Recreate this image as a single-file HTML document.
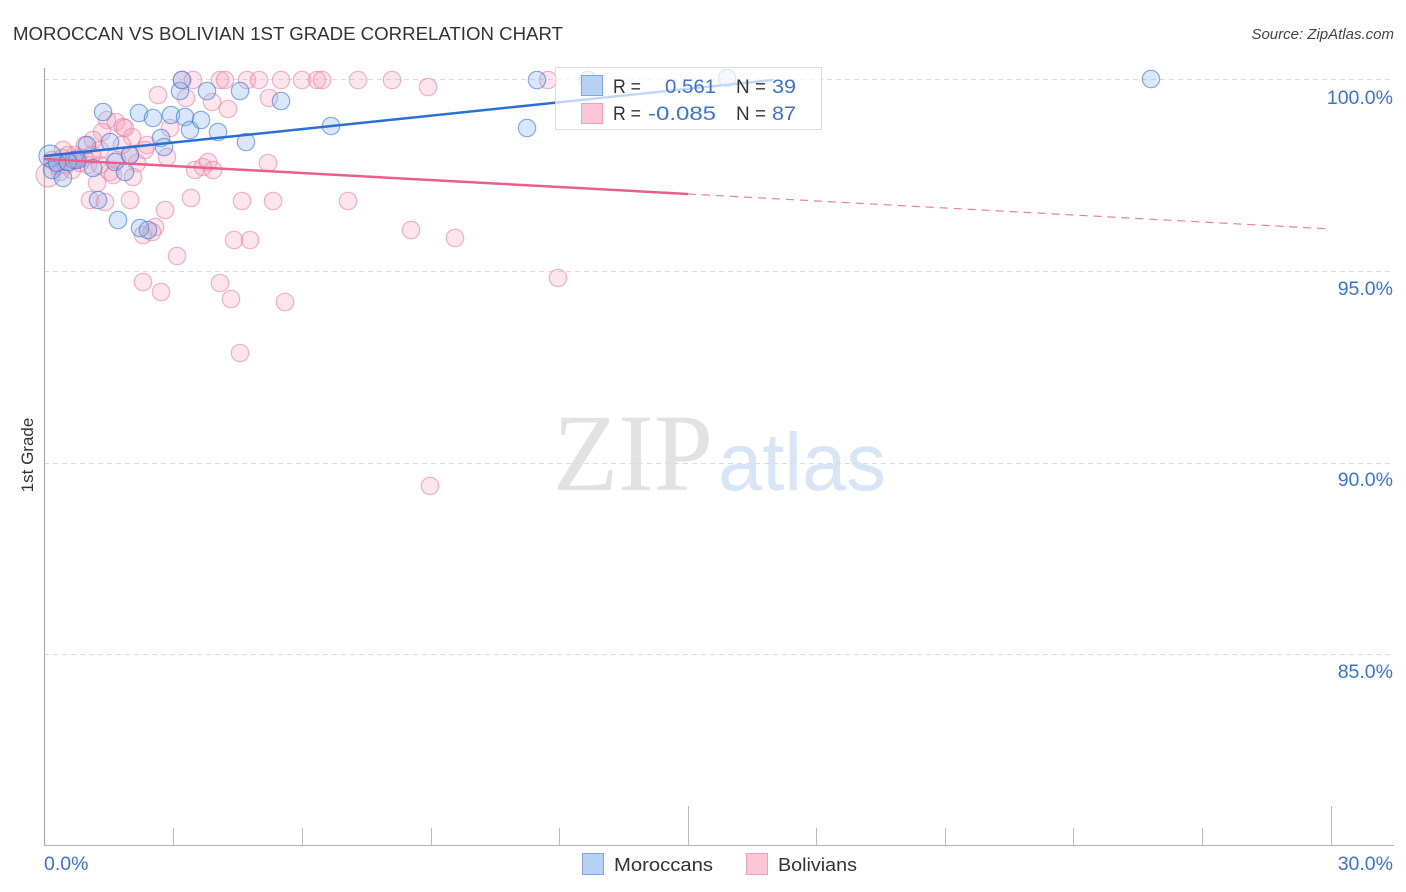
<!DOCTYPE html>
<html><head><meta charset="utf-8"><style>
html,body{margin:0;padding:0;background:#fff;}
svg{display:block;font-family:"Liberation Sans",sans-serif;}
</style></head><body>
<svg width="1406" height="892" viewBox="0 0 1406 892" xmlns="http://www.w3.org/2000/svg">
<rect width="1406" height="892" fill="#fff"/>
<!-- title -->
<text x="13" y="40" font-size="18" fill="#333" textLength="550" lengthAdjust="spacingAndGlyphs">MOROCCAN VS BOLIVIAN 1ST GRADE CORRELATION CHART</text>
<text x="1394" y="39" font-size="15" fill="#444" font-style="italic" text-anchor="end">Source: ZipAtlas.com</text>
<!-- watermark -->
<text x="553" y="490" font-family="Liberation Serif,serif" font-size="110" fill="#e2e2e2" textLength="160" lengthAdjust="spacingAndGlyphs">ZIP</text>
<text x="718" y="490" font-size="82" fill="#d8e5f7" textLength="168" lengthAdjust="spacingAndGlyphs">atlas</text>
<!-- gridlines -->
<g stroke="#dcdcdc" stroke-width="1" stroke-dasharray="5,4">
<line x1="44" y1="79.5" x2="1394" y2="79.5"/>
<line x1="44" y1="271.5" x2="1394" y2="271.5"/>
<line x1="44" y1="463.5" x2="1394" y2="463.5"/>
<line x1="44" y1="654.5" x2="1394" y2="654.5"/>
</g>
<!-- axes -->
<line x1="44.5" y1="68" x2="44.5" y2="846" stroke="#aaa" stroke-width="1.2"/>
<line x1="44" y1="845.5" x2="1394" y2="845.5" stroke="#bbb" stroke-width="1.2"/>
<g stroke="#bbb" stroke-width="1">
<line x1="173.5" y1="828" x2="173.5" y2="845"/>
<line x1="302.5" y1="828" x2="302.5" y2="845"/>
<line x1="431.5" y1="828" x2="431.5" y2="845"/>
<line x1="559.5" y1="828" x2="559.5" y2="845"/>
<line x1="688.5" y1="806" x2="688.5" y2="845"/>
<line x1="816.5" y1="828" x2="816.5" y2="845"/>
<line x1="945.5" y1="828" x2="945.5" y2="845"/>
<line x1="1073.5" y1="828" x2="1073.5" y2="845"/>
<line x1="1202.5" y1="828" x2="1202.5" y2="845"/>
<line x1="1331.5" y1="806" x2="1331.5" y2="845"/>
</g>
<!-- y tick labels -->
<g font-size="19.5" fill="#3b73d4" text-anchor="end">
<text x="1393" y="104">100.0%</text>
<text x="1393" y="295">95.0%</text>
<text x="1393" y="486">90.0%</text>
<text x="1393" y="678">85.0%</text>
</g>
<text x="44" y="870" font-size="19.5" fill="#3b73d4">0.0%</text>
<text x="1393" y="870" font-size="19.5" fill="#3b73d4" text-anchor="end">30.0%</text>
<text transform="translate(33,455) rotate(-90)" font-size="17" fill="#333" text-anchor="middle">1st Grade</text>
<!-- pink points -->
<g fill="rgba(244,160,186,0.28)" stroke="rgba(232,120,155,0.55)" stroke-width="1.2">
<circle cx="182" cy="80" r="8.7"/><circle cx="193" cy="80" r="8.7"/><circle cx="220" cy="80" r="8.7"/><circle cx="225" cy="80" r="8.7"/>
<circle cx="247" cy="80" r="8.7"/><circle cx="259" cy="80" r="8.7"/><circle cx="281" cy="80" r="8.7"/><circle cx="302" cy="80" r="8.7"/>
<circle cx="317" cy="80" r="8.7"/><circle cx="322" cy="80" r="8.7"/><circle cx="358" cy="80" r="8.7"/><circle cx="392" cy="80" r="8.7"/>
<circle cx="548" cy="80" r="8.7"/>
<circle cx="158" cy="95" r="8.7"/><circle cx="186" cy="98" r="8.7"/><circle cx="212" cy="102" r="8.7"/><circle cx="228" cy="109" r="8.7"/>
<circle cx="269" cy="98" r="8.7"/><circle cx="428" cy="87" r="8.7"/>
<circle cx="107" cy="120" r="8.7"/><circle cx="116" cy="122" r="8.7"/><circle cx="123" cy="127" r="8.7"/><circle cx="102" cy="132" r="8.7"/>
<circle cx="132" cy="137" r="8.7"/><circle cx="93" cy="140" r="8.7"/><circle cx="85" cy="145" r="8.7"/><circle cx="147" cy="145" r="8.7"/>
<circle cx="63" cy="150" r="8.7"/><circle cx="55" cy="162" r="8.7"/><circle cx="77" cy="158" r="8.7"/><circle cx="130" cy="155" r="8.7"/>
<circle cx="137" cy="163" r="8.7"/><circle cx="167" cy="157" r="8.7"/><circle cx="110" cy="172" r="8.7"/><circle cx="113" cy="175" r="8.7"/>
<circle cx="133" cy="177" r="8.7"/><circle cx="97" cy="183" r="8.7"/><circle cx="90" cy="200" r="8.7"/><circle cx="105" cy="202" r="8.7"/>
<circle cx="130" cy="200" r="8.7"/><circle cx="165" cy="210" r="8.7"/><circle cx="155" cy="227" r="8.7"/><circle cx="143" cy="235" r="8.7"/>
<circle cx="177" cy="256" r="8.7"/><circle cx="195" cy="170" r="8.7"/><circle cx="203" cy="167" r="8.7"/><circle cx="208" cy="162" r="8.7"/>
<circle cx="213" cy="170" r="8.7"/><circle cx="268" cy="163" r="8.7"/><circle cx="191" cy="198" r="8.7"/><circle cx="242" cy="201" r="8.7"/>
<circle cx="273" cy="201" r="8.7"/><circle cx="348" cy="201" r="8.7"/><circle cx="234" cy="240" r="8.7"/><circle cx="250" cy="240" r="8.7"/>
<circle cx="143" cy="282" r="8.7"/><circle cx="161" cy="292" r="8.7"/><circle cx="220" cy="283" r="8.7"/><circle cx="231" cy="299" r="8.7"/>
<circle cx="285" cy="302" r="8.7"/><circle cx="240" cy="353" r="8.7"/><circle cx="411" cy="230" r="8.7"/><circle cx="455" cy="238" r="8.7"/>
<circle cx="558" cy="278" r="8.7"/><circle cx="430" cy="486" r="8.7"/>
<circle cx="48" cy="175" r="12"/><circle cx="52" cy="160" r="8.7"/><circle cx="58" cy="166" r="8.7"/><circle cx="62" cy="158" r="8.7"/>
<circle cx="66" cy="165" r="8.7"/><circle cx="70" cy="162" r="8.7"/><circle cx="72" cy="170" r="8.7"/><circle cx="80" cy="163" r="8.7"/>
<circle cx="84" cy="158" r="8.7"/><circle cx="88" cy="165" r="8.7"/><circle cx="60" cy="172" r="8.7"/><circle cx="75" cy="155" r="8.7"/>
<circle cx="122" cy="145" r="8.7"/><circle cx="100" cy="165" r="8.7"/><circle cx="117" cy="160" r="8.7"/><circle cx="145" cy="150" r="8.7"/>
<circle cx="152" cy="232" r="8.7"/><circle cx="170" cy="128" r="8.7"/><circle cx="125" cy="128" r="8.7"/><circle cx="100" cy="150" r="8.7"/>
<circle cx="92" cy="155" r="8.7"/><circle cx="68" cy="155" r="8.7"/>
</g>
<!-- blue points -->
<g fill="rgba(140,180,235,0.32)" stroke="rgba(60,120,215,0.6)" stroke-width="1.2">
<circle cx="50" cy="156" r="11"/><circle cx="52" cy="170" r="8.7"/><circle cx="63" cy="178" r="8.7"/><circle cx="74" cy="160" r="8.7"/>
<circle cx="77" cy="160" r="8.7"/><circle cx="87" cy="145" r="8.7"/><circle cx="93" cy="168" r="8.7"/><circle cx="98" cy="200" r="8.7"/>
<circle cx="103" cy="112" r="8.7"/><circle cx="110" cy="142" r="8.7"/><circle cx="115" cy="162" r="8.7"/><circle cx="118" cy="220" r="8.7"/>
<circle cx="125" cy="172" r="8.7"/><circle cx="130" cy="155" r="8.7"/><circle cx="139" cy="113" r="8.7"/><circle cx="140" cy="228" r="8.7"/>
<circle cx="148" cy="230" r="8.7"/><circle cx="153" cy="118" r="8.7"/><circle cx="161" cy="138" r="8.7"/><circle cx="164" cy="147" r="8.7"/>
<circle cx="171" cy="115" r="8.7"/><circle cx="180" cy="91" r="8.7"/><circle cx="182" cy="80" r="8.7"/><circle cx="185" cy="117" r="8.7"/>
<circle cx="190" cy="130" r="8.7"/><circle cx="201" cy="120" r="8.7"/><circle cx="207" cy="91" r="8.7"/><circle cx="218" cy="132" r="8.7"/>
<circle cx="240" cy="91" r="8.7"/><circle cx="246" cy="142" r="8.7"/><circle cx="281" cy="101" r="8.7"/><circle cx="331" cy="126" r="8.7"/>
<circle cx="527" cy="128" r="8.7"/><circle cx="537" cy="80" r="8.7"/><circle cx="588" cy="80" r="8.7"/><circle cx="727" cy="78" r="8.7"/>
<circle cx="1151" cy="79" r="8.7"/><circle cx="57" cy="163" r="8.7"/><circle cx="68" cy="162" r="8.7"/>
</g>
<!-- trend lines -->
<line x1="44" y1="156" x2="773" y2="80" stroke="#2a6fd6" stroke-width="2.5"/>
<line x1="44" y1="159" x2="688" y2="194" stroke="#e8608a" stroke-width="2.5"/>
<line x1="688" y1="194" x2="1331" y2="229" stroke="#e8608a" stroke-width="1.2" stroke-dasharray="8,6" opacity="0.8"/>
<!-- legend box -->
<rect x="555.5" y="67.5" width="266" height="62" fill="rgba(255,255,255,0.72)" stroke="#dcdcdc" stroke-width="1"/>
<rect x="581.5" y="75.5" width="21" height="20" fill="#b7d1f3" stroke="#7fa6e0" stroke-width="1"/>
<rect x="581.5" y="103.5" width="21" height="20" fill="#f9c6d5" stroke="#eea0b8" stroke-width="1"/>
<g font-size="19.5">
<text x="613" y="93" fill="#333" textLength="28" lengthAdjust="spacingAndGlyphs">R =</text>
<text x="665" y="93" fill="#3b73d4" textLength="51" lengthAdjust="spacingAndGlyphs">0.561</text>
<text x="736" y="93" fill="#333" textLength="30" lengthAdjust="spacingAndGlyphs">N =</text>
<text x="772" y="93" fill="#3b73d4" textLength="24" lengthAdjust="spacingAndGlyphs">39</text>
<text x="613" y="120" fill="#333" textLength="28" lengthAdjust="spacingAndGlyphs">R =</text>
<text x="648" y="120" fill="#3b73d4" textLength="68" lengthAdjust="spacingAndGlyphs">-0.085</text>
<text x="736" y="120" fill="#333" textLength="30" lengthAdjust="spacingAndGlyphs">N =</text>
<text x="772" y="120" fill="#3b73d4" textLength="24" lengthAdjust="spacingAndGlyphs">87</text>
</g>
<!-- bottom legend -->
<rect x="582.5" y="853.5" width="21" height="21" fill="#b7d1f3" stroke="#7fa6e0" stroke-width="1"/>
<text x="614" y="871" font-size="18" fill="#333" textLength="99" lengthAdjust="spacingAndGlyphs">Moroccans</text>
<rect x="746.5" y="853.5" width="21" height="21" fill="#f9c6d5" stroke="#eea0b8" stroke-width="1"/>
<text x="778" y="871" font-size="18" fill="#333" textLength="79" lengthAdjust="spacingAndGlyphs">Bolivians</text>
</svg>
</body></html>
